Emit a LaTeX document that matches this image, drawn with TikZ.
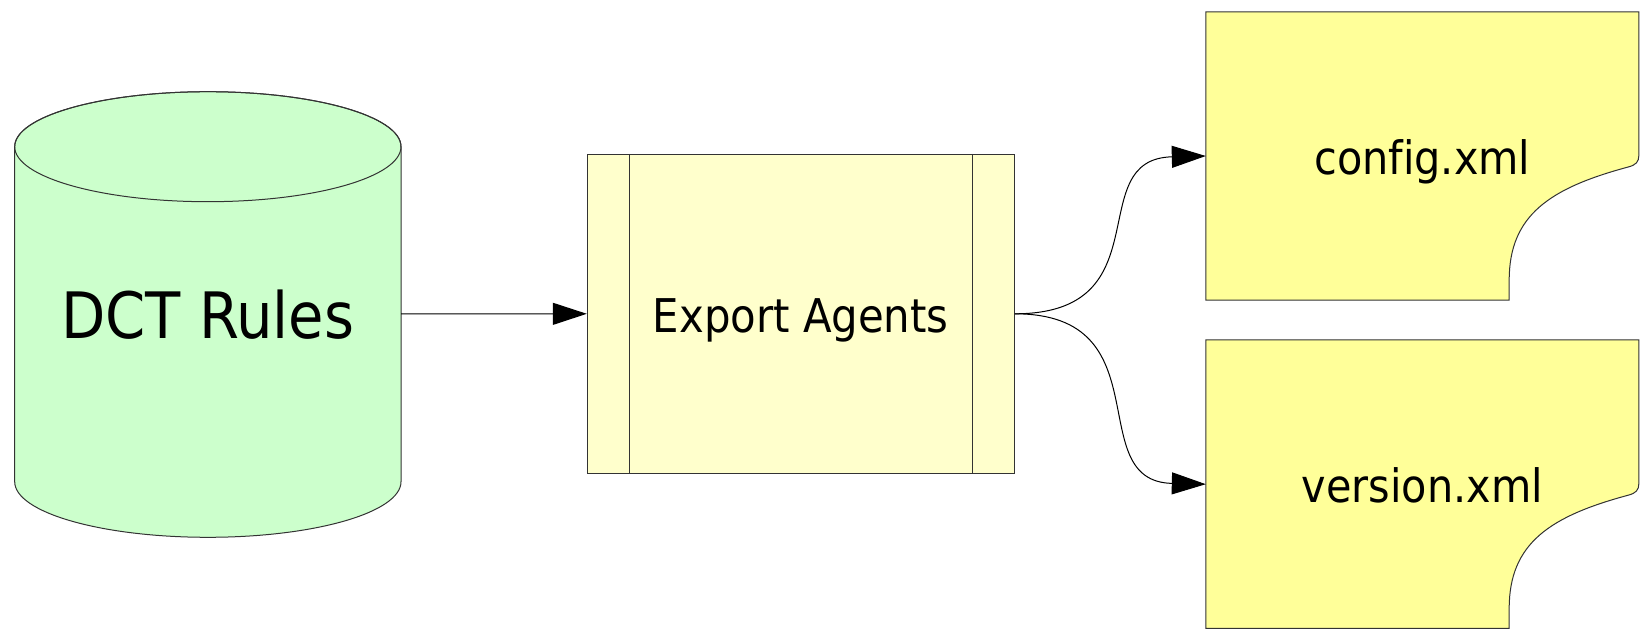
\documentclass[tikz,border=0pt]{standalone}
\usepackage{fontspec}
\setmainfont[Ligatures=NoCommon]{DejaVu Sans Condensed}
\usetikzlibrary{arrows.meta,backgrounds}
\definecolor{cylgreen}{HTML}{CCFFCC}
\definecolor{procyellow}{HTML}{FFFFCC}
\definecolor{noteyellow}{HTML}{FFFF99}
\definecolor{edgegray}{HTML}{333333}
\newcommand{\drawnote}[1]{%
  \filldraw[noteline] (#1.north west) -- (#1.north east) -- ([yshift=1pt]#1.east)
    .. controls ([yshift=-6pt]#1.east) and ([xshift=-3pt,yshift=-9pt]#1.east) .. ([xshift=-10.7pt,yshift=-11pt]#1.east)
    .. controls ([xshift=-88.7pt,yshift=-32pt]#1.east) and ([xshift=-129.7pt,yshift=-59pt]#1.east) .. ([xshift=-129.7pt,yshift=-124pt]#1.east)
    -- ([xshift=-129.7pt]#1.south east) -- (#1.south west) -- cycle;}
\begin{document}
\begin{tikzpicture}[x=1pt,y=1pt,
  txt/.style={font=\fontsize{46}{55}\selectfont, text height=37pt, text depth=0pt, inner sep=0pt},
  bigtxt/.style={font=\fontsize{64}{76}\selectfont, text height=50pt, text depth=0pt, inner sep=0pt},
  outl/.style={draw=edgegray, line width=1pt},
  noteline/.style={fill=noteyellow, draw=edgegray, line width=1pt},
  conn/.style={draw=black, line width=1pt, -{Triangle[length=34pt,width=22pt]}}]
\useasboundingbox (0,0) rectangle (1642,-636);
% nodes
\node[bigtxt, minimum width=386.3pt, minimum height=445.6pt] (dct) at (207.85,-314) {DCT Rules};
\node[txt, font=\fontsize{46.5}{55}\selectfont, outl, fill=procyellow, minimum width=427pt, minimum height=319pt] (exp) at (800.8,-313.8) {Export Agents};
\node[txt, minimum width=432.7pt, minimum height=288pt] (cfg) at (1422.35,-156) {config.xml};
\node[txt, minimum width=432.7pt, minimum height=288pt] (ver) at (1422.35,-484.2) {version.xml};
% background shapes
\begin{scope}[on background layer]
  \filldraw[fill=cylgreen, outl] (14.7,-146.7) -- (14.7,-481.7)
    arc[start angle=180, end angle=360, x radius=193.15pt, y radius=55.6pt]
    -- (401,-146.7)
    arc[start angle=0, end angle=180, x radius=193.15pt, y radius=55pt] -- cycle;
  \draw[outl] (207.85,-146.7) ellipse[x radius=193.15pt, y radius=55pt];
  \drawnote{cfg}
  \drawnote{ver}
\end{scope}
% process side bars
\draw[outl] ([xshift=42.7pt]exp.north west) -- ([xshift=42.7pt]exp.south west);
\draw[outl] ([xshift=-42.7pt]exp.north east) -- ([xshift=-42.7pt]exp.south east);
% connectors
\draw[conn] (dct.east) -- (exp.west);
\draw[conn] (exp.east) .. controls +(150,0) and +(-125,-3) .. (cfg.west);
\draw[conn] (exp.east) .. controls +(150,0) and +(-125,3) .. (ver.west);
\end{tikzpicture}
\end{document}
